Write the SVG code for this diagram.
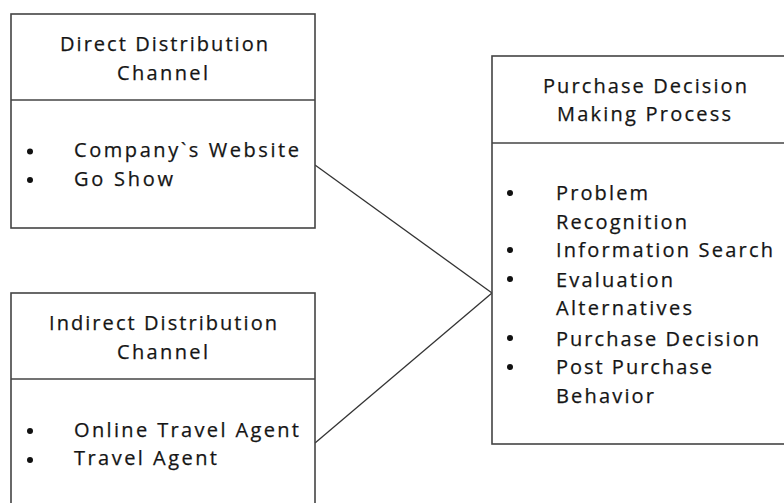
<svg xmlns="http://www.w3.org/2000/svg" width="784" height="503" viewBox="0 0 784 503">
<style>
.box{fill:#fff;stroke:#444;stroke-width:1.6}
.div{stroke:#444;stroke-width:1.6}
.t{font-family:"Open Sans","Noto Sans",sans-serif;font-size:20px;fill:#151515;stroke:#151515;stroke-width:0.25}
.b{fill:#111}
.con{stroke:#333;stroke-width:1.3;fill:none}
</style>
<rect width="784" height="503" fill="#fff"/>
<g id="connectors">
<line class="con" x1="315" y1="165" x2="492" y2="293"/>
<line class="con" x1="315" y1="443" x2="492" y2="293"/>
</g>
<g id="direct">
<rect class="box" x="11" y="14" width="304" height="214"/>
<line class="div" x1="11" y1="100" x2="315" y2="100"/>
<text class="t" x="60" y="51" textLength="208" lengthAdjust="spacing">Direct Distribution</text>
<text class="t" x="117" y="80" textLength="91" lengthAdjust="spacing">Channel</text>
<circle class="b" cx="30" cy="151.5" r="3"/>
<circle class="b" cx="30" cy="180" r="3"/>
<text class="t" x="74" y="157" textLength="225" lengthAdjust="spacing">Company`s Website</text>
<text class="t" x="74" y="186" textLength="99" lengthAdjust="spacing">Go Show</text>
</g>
<g id="indirect">
<rect class="box" x="11" y="293" width="304" height="230"/>
<line class="div" x1="11" y1="379" x2="315" y2="379"/>
<text class="t" x="49" y="330" textLength="228" lengthAdjust="spacing">Indirect Distribution</text>
<text class="t" x="117" y="359" textLength="91" lengthAdjust="spacing">Channel</text>
<circle class="b" cx="30" cy="431" r="3"/>
<circle class="b" cx="30" cy="460" r="3"/>
<text class="t" x="74" y="437" textLength="225" lengthAdjust="spacing">Online Travel Agent</text>
<text class="t" x="74" y="465" textLength="143" lengthAdjust="spacing">Travel Agent</text>
</g>
<g id="purchase">
<rect class="box" x="492" y="56" width="320" height="388"/>
<line class="div" x1="492" y1="143" x2="812" y2="143"/>
<text class="t" x="543" y="93" textLength="204" lengthAdjust="spacing">Purchase Decision</text>
<text class="t" x="557" y="121" textLength="174" lengthAdjust="spacing">Making Process</text>
<circle class="b" cx="510" cy="193" r="3"/>
<circle class="b" cx="510" cy="250" r="3"/>
<circle class="b" cx="510" cy="279" r="3"/>
<circle class="b" cx="510" cy="338" r="3"/>
<circle class="b" cx="510" cy="367" r="3"/>
<text class="t" x="556" y="200" textLength="92" lengthAdjust="spacing">Problem</text>
<text class="t" x="556" y="229" textLength="131" lengthAdjust="spacing">Recognition</text>
<text class="t" x="556" y="257" textLength="217" lengthAdjust="spacing">Information Search</text>
<text class="t" x="556" y="287" textLength="117" lengthAdjust="spacing">Evaluation</text>
<text class="t" x="556" y="315" textLength="136" lengthAdjust="spacing">Alternatives</text>
<text class="t" x="556" y="346" textLength="203" lengthAdjust="spacing">Purchase Decision</text>
<text class="t" x="556" y="374" textLength="156" lengthAdjust="spacing">Post Purchase</text>
<text class="t" x="556" y="403" textLength="98" lengthAdjust="spacing">Behavior</text>
</g>
</svg>
